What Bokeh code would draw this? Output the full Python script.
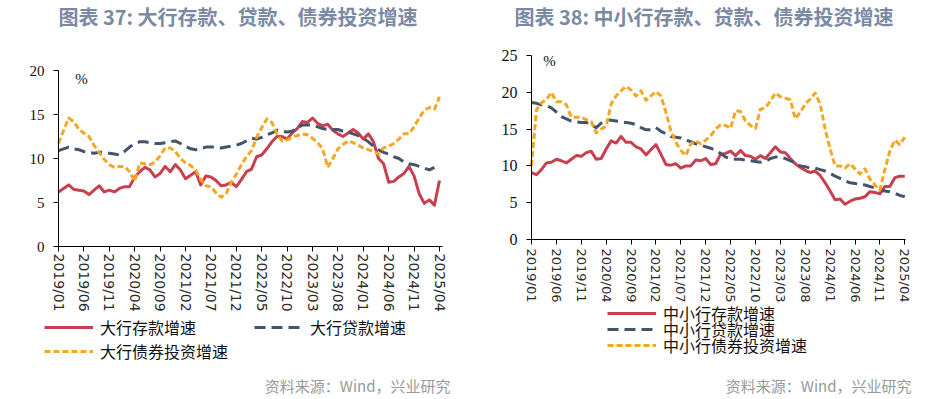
from bokeh.plotting import figure
from bokeh.models import Range1d, FixedTicker, Label, Legend, LegendItem
from bokeh.layouts import row
from bokeh.embed import file_html
from bokeh.resources import INLINE

# ---------------- data ----------------
tick_labels = ["2019/01", "2019/06", "2019/11", "2020/04", "2020/09", "2021/02",
               "2021/07", "2021/12", "2022/05", "2022/10", "2023/03", "2023/08",
               "2024/01", "2024/06", "2024/11", "2025/04"]

# 大行 (2019/01 - 2025/04, monthly)
big_dep = [6.2, 6.6, 7.0, 6.5, 6.4, 6.3, 5.9, 6.4, 6.9, 6.2, 6.4, 6.2, 6.6, 6.8, 6.8, 7.9,
           8.5, 9.0, 8.7, 7.9, 8.3, 9.1, 8.5, 9.3, 8.7, 7.7, 8.1, 8.5, 7.0, 8.0, 7.9, 7.5,
           6.9, 7.0, 7.3, 6.8, 7.6, 8.5, 8.8, 10.2, 10.4, 11.1, 11.9, 12.5, 12.5, 12.2, 12.9, 13.4,
           14.2, 14.1, 14.6, 14.0, 13.7, 13.9, 13.2, 12.8, 12.5, 12.9, 13.3, 12.9, 12.2, 12.8, 11.9, 10.0,
           9.4, 7.3, 7.4, 7.9, 8.3, 9.1, 8.0, 6.0, 4.9, 5.3, 4.7, 7.5]
big_loan = [10.9, 11.1, 11.3, 11.1, 11.0, 10.8, 10.7, 10.6, 10.7, 10.7, 10.6, 10.5, 10.4, 10.8, 11.3, 11.7,
            11.9, 11.9, 11.8, 11.7, 11.7, 11.8, 11.9, 12.0, 11.7, 11.4, 11.1, 11.0, 11.1, 11.3, 11.3, 11.3,
            11.2, 11.3, 11.4, 11.5, 11.7, 12.0, 12.3, 12.2, 12.4, 12.7, 12.9, 13.2, 13.1, 13.0, 13.1, 13.5,
            13.8, 13.8, 13.8, 13.6, 13.4, 13.3, 13.3, 13.3, 13.1, 13.0, 12.8, 12.6, 12.3, 11.9, 11.4, 11.0,
            10.7, 10.5, 10.2, 10.0, 9.6, 9.4, 9.3, 9.1, 8.9, 8.7, 9.0]
big_bond = [11.7, 13.2, 14.6, 14.2, 13.3, 12.9, 12.5, 11.5, 10.7, 9.9, 9.3, 9.0, 9.1, 9.1, 8.5, 7.4,
            9.5, 9.4, 9.3, 9.6, 10.3, 11.2, 11.2, 10.8, 10.0, 9.5, 9.2, 8.7, 7.6, 6.9, 6.8, 6.1,
            5.6, 6.0, 7.3, 8.2, 9.3, 10.2, 10.9, 12.4, 13.5, 14.5, 14.1, 12.8, 12.0, 12.1, 12.4, 12.6,
            12.8, 12.7, 12.3, 11.8, 11.1, 9.0, 10.0, 11.1, 11.6, 12.0, 11.8, 11.5, 11.2, 11.0, 10.8, 10.5,
            11.2, 11.4, 11.7, 12.2, 12.8, 12.8, 13.6, 14.6, 15.5, 15.8, 15.6, 17.0]

# 中小行
small_dep = [9.1, 8.8, 9.5, 10.4, 10.5, 10.9, 10.7, 10.4, 10.9, 11.4, 11.3, 11.8, 12.0, 10.9, 11.0, 12.3,
             13.4, 13.1, 14.0, 13.2, 13.2, 12.6, 12.3, 11.5, 12.2, 12.9, 11.6, 10.2, 10.1, 10.3, 9.7, 10.0,
             10.0, 10.8, 10.7, 11.0, 10.2, 10.3, 11.6, 11.7, 12.0, 11.4, 12.1, 11.4, 11.3, 10.9, 11.4, 11.0,
             11.8, 12.6, 11.9, 11.8, 11.0, 10.3, 9.8, 9.4, 9.1, 9.3, 8.7, 7.7, 6.6, 5.4, 5.5, 4.8,
             5.2, 5.5, 5.6, 5.8, 6.5, 6.4, 6.2, 7.2, 7.2, 8.4, 8.6, 8.6]
small_loan = [18.6, 18.5, 18.3, 18.2, 17.9, 17.3, 16.7, 16.4, 16.1, 16.0, 15.9, 15.9, 15.6, 15.2, 15.8, 16.3,
              16.2, 16.1, 16.0, 15.9, 15.8, 15.6, 15.2, 14.9, 14.9, 15.2, 14.7, 14.4, 14.0, 13.9, 13.8, 13.5,
              13.3, 13.0, 12.8, 12.6, 12.4, 12.1, 11.7, 11.2, 11.0, 10.9, 10.9, 10.8, 10.7, 10.6, 10.5, 10.6,
              11.0, 11.2, 11.2, 11.0, 10.7, 10.4, 10.0, 9.9, 9.7, 9.7, 9.5, 9.3, 9.0, 8.6, 8.3, 8.0,
              7.7, 7.6, 7.5, 7.4, 7.2, 7.0, 6.7, 6.6, 6.5, 6.3, 6.0, 5.8]
small_bond = [10.0, 17.6, 18.6, 19.0, 20.0, 18.7, 18.7, 18.3, 16.6, 16.6, 16.6, 16.3, 16.0, 14.5, 15.0, 15.4,
              18.4, 19.5, 20.2, 20.8, 20.3, 19.5, 20.2, 18.9, 19.5, 20.1, 19.5, 17.3, 14.8, 13.2, 12.1, 11.4,
              13.0, 13.4, 13.0, 13.5, 14.1, 15.0, 15.6, 15.5, 15.1, 17.5, 17.4, 16.1, 15.5, 15.1, 17.7, 17.9,
              18.8, 19.9, 19.4, 19.2, 19.0, 16.4, 17.3, 18.4, 19.1, 19.9, 18.4, 15.0, 12.3, 10.0, 10.0, 9.7,
              10.3, 9.6, 8.9, 9.6, 8.2, 7.4, 6.7, 9.5, 12.0, 13.5, 12.9, 13.9]

titles = ["图表 37: 大行存款、贷款、债券投资增速", "图表 38: 中小行存款、贷款、债券投资增速"]
big_names = ["大行存款增速", "大行贷款增速", "大行债券投资增速"]
small_names = ["中小行存款增速", "中小行贷款增速", "中小行债券投资增速"]
source_text = "资料来源：Wind，兴业研究"

RED = "#C8404F"
NAVY = "#44546A"
ORANGE = "#F5A623"
TITLE_C = "#7A8AA3"
SRC_C = "#999999"
CJK = "Noto Sans CJK SC"

W, H = 474, 399


def make_fig(ax_x0, ax_y0, px_x, px_y, x_len, y_top, y_step, ylab_size, xlab_size, xstandoff):
    """ax_x0/ax_y0: canvas pixel of data origin; px_x/px_y: pixels per unit."""
    p = figure(width=W, height=H, output_backend="svg", toolbar_location=None,
               x_range=Range1d(-ax_x0 / px_x, (W - ax_x0) / px_x),
               y_range=Range1d(-(H - ax_y0) / px_y, ax_y0 / px_y),
               min_border_left=0, min_border_right=0, min_border_top=0, min_border_bottom=0)
    p.xgrid.visible = False
    p.ygrid.visible = False
    p.outline_line_color = None
    p.background_fill_color = "white"
    p.border_fill_color = "white"
    p.xaxis.fixed_location = 0
    p.yaxis.fixed_location = 0
    p.xaxis.bounds = (0, x_len)
    p.yaxis.bounds = (0, y_top)
    p.xaxis.ticker = FixedTicker(ticks=[5 * k for k in range(len(tick_labels))])
    p.xaxis.major_label_overrides = {5 * k: lab for k, lab in enumerate(tick_labels)}
    p.xaxis.major_label_orientation = "vertical"
    p.yaxis.ticker = FixedTicker(ticks=list(range(0, int(y_top) + 1, y_step)))
    for ax in (p.xaxis[0], p.yaxis[0]):
        ax.axis_line_color = "black"
        ax.axis_line_width = 1
        ax.major_tick_line_color = "black"
        ax.major_tick_out = 5
        ax.major_tick_in = 0
        ax.minor_tick_line_color = None
    p.xaxis.major_label_text_font = "DejaVu Sans"
    p.xaxis.major_label_text_font_size = xlab_size
    p.xaxis.major_label_text_color = "#2b2b2b"
    p.xaxis.major_label_standoff = xstandoff
    p.yaxis.major_label_text_font = "Liberation Serif"
    p.yaxis.major_label_text_font_size = ylab_size
    p.yaxis.major_label_text_color = "#111111"
    p.yaxis.major_label_standoff = 9
    return p


def add_text(p, x, y, text, size, color, font, align="left", style="normal"):
    # x, y given in canvas pixels from top-left
    p.add_layout(Label(x=x, y=H - y, x_units="screen", y_units="screen", text=text,
                       text_font=font, text_font_size=size, text_color=color,
                       text_align=align, text_baseline="middle", text_font_style=style))


def add_legend(p, r, label, x, yc):
    # x: left of sample line, yc: vertical centre of the entry (canvas px from top)
    lg = Legend(items=[LegendItem(label=label, renderers=[r])], location=(x, H - (yc + 10)),
                orientation="vertical", padding=0, margin=0, spacing=0,
                border_line_color=None, background_fill_alpha=0,
                glyph_width=49, glyph_height=20, label_height=20, label_standoff=7,
                label_text_font=CJK, label_text_font_size="16px", label_text_color="#111111")
    p.add_layout(lg)


def draw_series(p, dep, loan, bond):
    r1 = p.line(list(range(len(dep))), dep, line_color=RED, line_width=3, line_join="round")
    r2 = p.line(list(range(len(loan))), loan, line_color=NAVY, line_width=3, line_dash="11 6",
                line_join="round")
    r3 = p.line(list(range(len(bond))), bond, line_color=ORANGE, line_width=3, line_dash="6 3",
                line_join="round")
    return r1, r2, r3


# ---------------- left chart ----------------
p1 = make_fig(58, 246, 5.08, 8.8, 75.6, 20, 5, "15px", "14px", 2)
a1, a2, a3 = draw_series(p1, big_dep, big_loan, big_bond)
add_legend(p1, a1, big_names[0], 44, 329)
add_legend(p1, a2, big_names[1], 254, 329)
add_legend(p1, a3, big_names[2], 44, 353)
add_text(p1, 237.5, 16, titles[0], "20px", TITLE_C, CJK, "center", "bold")
add_text(p1, 450, 385, source_text, "15px", SRC_C, CJK, "right")
add_text(p1, 81, 78, "%", "15px", "#111111", "Liberation Serif", "center")

# ---------------- right chart (canvas starts at page x 474) ----------------
p2 = make_fig(57, 239, 4.977, 7.36, 75.15, 25, 5, "16px", "13px", 4)
b1, b2, b3 = draw_series(p2, small_dep, small_loan, small_bond)
add_legend(p2, b1, small_names[0], 607 - 474, 315)
add_legend(p2, b2, small_names[1], 607 - 474, 331)
add_legend(p2, b3, small_names[2], 607 - 474, 347)
add_text(p2, 703.5 - 474, 16, titles[1], "20px", TITLE_C, CJK, "center", "bold")
add_text(p2, 911 - 474, 385, source_text, "15px", SRC_C, CJK, "right")
add_text(p2, 549 - 474, 60, "%", "15px", "#111111", "Liberation Serif", "center")

layout = row(p1, p2, spacing=0)
open("out.html", "w").write(file_html(layout, INLINE))
